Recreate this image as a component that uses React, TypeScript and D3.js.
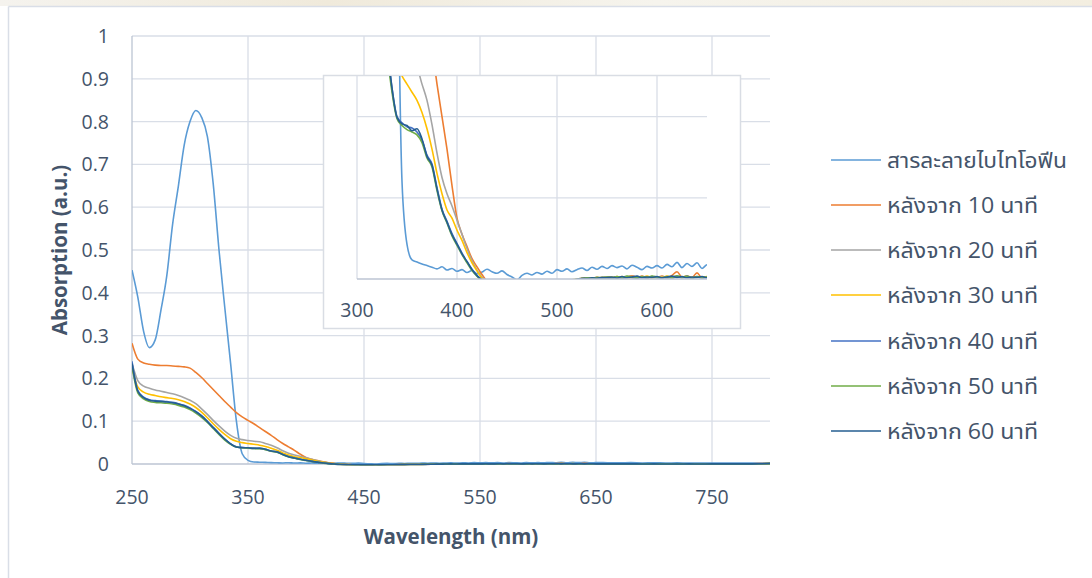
import React from "react";
import * as d3 from "d3";

// sampling grid (nm): 5 nm up to 650, 10 nm after
const wavelengths = [
  250, 255, 260, 265, 270, 275, 280, 285, 290, 295,
  300, 305, 310, 315, 320, 325, 330, 335, 340, 345,
  350, 355, 360, 365, 370, 375, 380, 385, 390, 395,
  400, 405, 410, 415, 420, 425, 430, 435, 440, 445,
  450, 455, 460, 465, 470, 475, 480, 485, 490, 495,
  500, 505, 510, 515, 520, 525, 530, 535, 540, 545,
  550, 555, 560, 565, 570, 575, 580, 585, 590, 595,
  600, 605, 610, 615, 620, 625, 630, 635, 640, 645,
  650, 660, 670, 680, 690, 700, 710, 720, 730, 740,
  750, 760, 770, 780, 790, 800,
];

const bithiophene = [
  0.453, 0.39, 0.31, 0.272, 0.29, 0.36, 0.44, 0.56, 0.65, 0.745,
  0.8, 0.826, 0.81, 0.765, 0.655, 0.5, 0.365, 0.235, 0.1, 0.024,
  0.0085, 0.0047, 0.0042, 0.0037, 0.0033, 0.0029, 0.0025, 0.003, 0.0022, 0.0026,
  0.0019, 0.0023, 0.0016, 0.0021, 0.0013, 0.0017, 0.0024, 0.0018, 0.0014, 0.002,
  0.0011, 0.0005, -0.0002, 0.0009, 0.0014, 0.001, 0.0016, 0.0012, 0.0019, 0.0014,
  0.0023, 0.0019, 0.0025, 0.0018, 0.0023, 0.0027, 0.0021, 0.0029, 0.0024, 0.0031,
  0.0026, 0.0033, 0.0028, 0.0032, 0.0025, 0.0034, 0.0029, 0.0023, 0.0031, 0.0027,
  0.0033, 0.0027, 0.0036, 0.003, 0.0041, 0.0028, 0.0038, 0.0031, 0.004, 0.0026,
  0.0035, 0.003, 0.0027, 0.0031, 0.0025, 0.0028, 0.0024, 0.0026, 0.0022, 0.0025,
  0.0021, 0.0023, 0.002, 0.0022, 0.0024, 0.0026,
];

const after10 = [
  0.282, 0.245, 0.236, 0.233, 0.231, 0.23, 0.23, 0.229, 0.228, 0.227,
  0.224, 0.214, 0.202, 0.188, 0.174, 0.16, 0.146, 0.133, 0.12, 0.11,
  0.102, 0.094, 0.085, 0.076, 0.067, 0.057, 0.048, 0.04, 0.032, 0.023,
  0.015, 0.011, 0.008, 0.005, 0.003, 0.0011, -0.0006, -0.0012, -0.0016, -0.0018,
  -0.0019, -0.0021, -0.002, -0.0019, -0.0017, -0.0018, -0.0015, -0.0014, -0.0012, -0.0011,
  -0.0009, -0.0008, -0.0006, -0.0004, -0.0001, 0.0001, 0.0003, 0.0001, 0.0004, 0.0002,
  0.0005, 0.0003, 0.0006, 0.0002, 0.0005, 0.0008, 0.0004, 0.0007, 0.0003, 0.0006,
  0.0004, 0.0007, 0.0003, 0.0009, 0.0018, 0.0005, 0.0006, 0.0004, 0.0015, 0.0003,
  0.0005, 0.0004, 0.0002, 0.0005, 0.0003, 0.0001, 0.0004, 0.0002, 0.0003, 0.0001,
  0.0004, 0.0006, 0.0003, 0.0005, 0.0008, 0.0012,
];

const after20 = [
  0.235, 0.195, 0.182, 0.177, 0.173, 0.17, 0.167, 0.164, 0.16, 0.155,
  0.149, 0.141, 0.129, 0.116, 0.102, 0.089, 0.077, 0.067, 0.06, 0.057,
  0.055, 0.053, 0.052, 0.048, 0.044, 0.038, 0.031, 0.025, 0.021, 0.018,
  0.0145, 0.011, 0.0075, 0.0045, 0.0022, 0.0004, -0.0008, -0.0014, -0.0017, -0.0019,
  -0.002, -0.0019, -0.0021, -0.0018, -0.0017, -0.0016, -0.0015, -0.0013, -0.0012, -0.001,
  -0.0008, -0.0007, -0.0005, -0.0003, -0.0001, 0.0001, 0.0002, 0.0, 0.0003, 0.0001,
  0.0004, 0.0002, 0.0005, 0.0001, 0.0004, 0.0006, 0.0003, 0.0005, 0.0002, 0.0004,
  0.0003, 0.0006, 0.0002, 0.0005, 0.0007, 0.0003, 0.0005, 0.0002, 0.0006, 0.0003,
  0.0004, 0.0003, 0.0001, 0.0004, 0.0002, 0.0, 0.0003, 0.0001, 0.0002, 0.0,
  0.0003, 0.0004, 0.0002, 0.0004, 0.0006, 0.001,
];

const after30 = [
  0.225, 0.18, 0.168, 0.163, 0.16, 0.157, 0.155, 0.153, 0.15, 0.146,
  0.14, 0.132, 0.121, 0.108, 0.094, 0.081, 0.069, 0.059, 0.053, 0.05,
  0.048, 0.046, 0.044, 0.041, 0.037, 0.032, 0.026, 0.021, 0.017, 0.015,
  0.012, 0.0095, 0.0065, 0.004, 0.002, 0.0002, -0.0009, -0.0014, -0.0017, -0.0019,
  -0.002, -0.0021, -0.0019, -0.002, -0.0018, -0.0016, -0.0016, -0.0014, -0.0012, -0.0011,
  -0.0009, -0.0006, -0.0005, -0.0002, 0.0, 0.0002, 0.0001, 0.0003, 0.0002, 0.0004,
  0.0003, 0.0005, 0.0002, 0.0006, 0.0004, 0.0003, 0.0006, 0.0004, 0.0007, 0.0003,
  0.0005, 0.0004, 0.0007, 0.0003, 0.0006, 0.0004, 0.0008, 0.0003, 0.0005, 0.0004,
  0.0006, 0.0004, 0.0002, 0.0003, 0.0001, 0.0003, 0.0002, 0.0, 0.0002, 0.0001,
  0.0003, 0.0005, 0.0002, 0.0004, 0.0005, 0.0009,
];

const after40 = [
  0.24, 0.172, 0.156, 0.15, 0.148, 0.147, 0.146, 0.144, 0.141, 0.137,
  0.131, 0.123, 0.113, 0.1, 0.086, 0.072, 0.058, 0.047, 0.04, 0.0385,
  0.0375, 0.0372, 0.0362, 0.0342, 0.0305, 0.0283, 0.0225, 0.0172, 0.0142, 0.0112,
  0.0087, 0.0064, 0.0042, 0.0024, 0.0009, -0.0003, -0.0011, -0.0016, -0.0019, -0.002,
  -0.0021, -0.0022, -0.002, -0.0021, -0.0019, -0.0017, -0.0016, -0.0015, -0.0013, -0.0012,
  -0.001, -0.0008, -0.0006, -0.0004, -0.0002, 0.0, 0.0002, 0.0001, 0.0003, 0.0002,
  0.0004, 0.0002, 0.0005, 0.0003, 0.0006, 0.0004, 0.0002, 0.0005, 0.0003, 0.0006,
  0.0004, 0.0002, 0.0005, 0.0003, 0.0006, 0.0004, 0.0007, 0.0002, 0.0005, 0.0003,
  0.0004, 0.0003, 0.0001, 0.0003, 0.0, 0.0002, 0.0001, -0.0001, 0.0001, 0.0,
  0.0002, 0.0003, 0.0001, 0.0003, 0.0004, 0.0008,
];

const after50 = [
  0.228, 0.166, 0.152, 0.146, 0.144, 0.143, 0.142, 0.14, 0.137, 0.133,
  0.127, 0.119, 0.109, 0.097, 0.083, 0.069, 0.056, 0.046, 0.0395, 0.0378,
  0.0368, 0.0362, 0.0355, 0.0336, 0.0298, 0.0276, 0.0218, 0.0168, 0.0138, 0.0106,
  0.0083, 0.006, 0.004, 0.0021, 0.0007, -0.0004, -0.0012, -0.0017, -0.002, -0.0021,
  -0.0022, -0.0021, -0.0022, -0.002, -0.0019, -0.0018, -0.0016, -0.0014, -0.0013, -0.0011,
  -0.0009, -0.0007, -0.0006, -0.0003, -0.0001, 0.0001, 0.0003, 0.0002, 0.0004, 0.0003,
  0.0005, 0.0003, 0.0006, 0.0004, 0.0007, 0.0005, 0.0003, 0.0006, 0.0004, 0.0007,
  0.0005, 0.0003, 0.0006, 0.0004, 0.0008, 0.0005, 0.0006, 0.0003, 0.0006, 0.0004,
  0.0005, 0.0004, 0.0002, 0.0004, 0.0001, 0.0003, 0.0002, 0.0, 0.0002, 0.0001,
  0.0003, 0.0004, 0.0002, 0.0004, 0.0005, 0.0009,
];

const after60 = [
  0.235, 0.17, 0.155, 0.149, 0.147, 0.146, 0.145, 0.143, 0.14, 0.136,
  0.13, 0.122, 0.112, 0.099, 0.085, 0.071, 0.058, 0.047, 0.0398, 0.0382,
  0.0378, 0.0365, 0.037, 0.0345, 0.0302, 0.028, 0.0222, 0.017, 0.014, 0.0109,
  0.0086, 0.0062, 0.0043, 0.0023, 0.0008, -0.0002, -0.001, -0.0015, -0.0018, -0.0019,
  -0.002, -0.0021, -0.0019, -0.002, -0.0018, -0.0016, -0.0015, -0.0014, -0.0012, -0.0011,
  -0.0009, -0.0007, -0.0005, -0.0003, -0.0001, 0.0002, 0.0001, 0.0003, 0.0002, 0.0004,
  0.0003, 0.0005, 0.0002, 0.0006, 0.0003, 0.0005, 0.0007, 0.0003, 0.0005, 0.0004,
  0.0006, 0.0003, 0.0005, 0.0007, 0.0004, 0.0006, 0.0003, 0.0005, 0.0004, 0.0006,
  0.0003, 0.0003, 0.0002, 0.0004, 0.0001, 0.0002, 0.0001, 0.0, 0.0002, 0.0001,
  0.0003, 0.0004, 0.0002, 0.0003, 0.0005, 0.001,
];

const seriesNames = [
  "สารละลายไบไทโอฟีน",
  "หลังจาก 10 นาที",
  "หลังจาก 20 นาที",
  "หลังจาก 30 นาที",
  "หลังจาก 40 นาที",
  "หลังจาก 50 นาที",
  "หลังจาก 60 นาที",
];
const seriesValues = [bithiophene, after10, after20, after30, after40, after50, after60];
const seriesColors = ["#5b9bd5", "#ed7d31", "#a5a5a5", "#ffc000", "#4472c4", "#70ad47", "#255e91"];

const xTicks = [250, 350, 450, 550, 650, 750];
const yTicks = [0, 0.1, 0.2, 0.3, 0.4, 0.5, 0.6, 0.7, 0.8, 0.9, 1];
const insetXTicks = [300, 400, 500, 600];
const insetYGrid = [0.02, 0.04];

const FONT = "'Open Sans', 'Noto Sans Thai', 'Noto Sans', sans-serif";
const TEXT = "#44546a";
const GRID = "#d9dee7";
const AXIS = "#bcc5d3";

export default function App() {
  const W = 1092;
  const H = 578;

  const x = d3.scaleLinear().domain([250, 800]).range([132, 770]);
  const y = d3.scaleLinear().domain([0, 1]).range([464, 36]);

  const ix = d3.scaleLinear().domain([300, 650]).range([357, 707]);
  const iy = d3.scaleLinear().domain([0, 0.05]).range([279, 76]);

  const mainLine = d3
    .line<number>()
    .x((_, i) => x(wavelengths[i]))
    .y(d => y(d))
    .curve(d3.curveMonotoneX);

  const insetLine = d3
    .line<number>()
    .x((_, i) => ix(wavelengths[i]))
    .y(d => iy(d))
    .curve(d3.curveMonotoneX);

  const legendY = [160, 205, 250, 295, 341, 386, 431];

  return (
    <svg
      width={W}
      height={H}
      style={{ position: "absolute", left: 0, top: 0, background: "#fff" }}
      fontFamily={FONT}
    >
      <defs>
        <clipPath id="mainClip">
          <rect x={x(250)} y={y(1)} width={x(800) - x(250)} height={y(0) - y(1) + 1.5} />
        </clipPath>
        <clipPath id="insetClip">
          <rect x={ix(300)} y={iy(0.05)} width={ix(650) - ix(300)} height={iy(0) - iy(0.05)} />
        </clipPath>
        <linearGradient id="topGlow" x1="0" x2="1" y1="0" y2="0">
          <stop offset="0%" stopColor="#f5f3ee" />
          <stop offset="30%" stopColor="#f0eadb" />
          <stop offset="60%" stopColor="#f6f4ed" />
          <stop offset="100%" stopColor="#f3eee0" />
        </linearGradient>
      </defs>

      <rect x={0} y={0} width={W} height={6} fill="url(#topGlow)" />
      <line x1={8.5} x2={W} y1={6.5} y2={6.5} stroke="#d9dee7" strokeWidth={1.5} />
      <line x1={8.5} x2={8.5} y1={6.5} y2={H} stroke="#d9dee7" strokeWidth={1.5} />

      {/* main gridlines */}
      {yTicks.slice(1).map(t => (
        <line key={"gy" + t} x1={x(250)} x2={x(800)} y1={y(t)} y2={y(t)} stroke={GRID} strokeWidth={1.3} />
      ))}
      {xTicks.slice(1).map(t => (
        <line key={"gx" + t} x1={x(t)} x2={x(t)} y1={y(1)} y2={y(0)} stroke={GRID} strokeWidth={1.3} />
      ))}
      <line x1={x(250)} x2={x(250)} y1={y(1)} y2={y(0)} stroke={AXIS} strokeWidth={1.3} />
      <line x1={x(250)} x2={x(800)} y1={y(0)} y2={y(0)} stroke={AXIS} strokeWidth={1.3} />

      {/* main series */}
      <g clipPath="url(#mainClip)">
        {seriesValues.map((vals, k) => (
          <path key={k} d={mainLine(vals) || ""} fill="none" stroke={seriesColors[k]} strokeWidth={1.6} strokeLinejoin="round" />
        ))}
      </g>

      {/* main tick labels */}
      {yTicks.map(t => (
        <text key={"ly" + t} x={109} y={y(t)} dy="0.36em" textAnchor="end" fontSize={19.5} fill={TEXT}>
          {String(t)}
        </text>
      ))}
      {xTicks.map(t => (
        <text key={"lx" + t} x={x(t)} y={504} textAnchor="middle" fontSize={19.5} fill={TEXT}>
          {t}
        </text>
      ))}

      <text x={(x(250) + x(800)) / 2} y={544} textAnchor="middle" fontSize={20.5} fontWeight="bold" fill={TEXT}>
        Wavelength (nm)
      </text>
      <text
        transform={`translate(67, ${(y(0) + y(1)) / 2}) rotate(-90)`}
        textAnchor="middle"
        fontSize={20.5}
        fontWeight="bold"
        fill={TEXT}
      >
        Absorption (a.u.)
      </text>

      {/* inset */}
      <rect x={323.5} y={75.5} width={417} height={253} fill="#fff" stroke="#d9dde4" strokeWidth={1.5} />
      {insetYGrid.map(t => (
        <line key={"igy" + t} x1={ix(300)} x2={ix(650)} y1={iy(t)} y2={iy(t)} stroke={GRID} strokeWidth={1.3} />
      ))}
      {insetXTicks.slice(1).map(t => (
        <line key={"igx" + t} x1={ix(t)} x2={ix(t)} y1={iy(0.05)} y2={iy(0)} stroke={GRID} strokeWidth={1.3} />
      ))}
      <line x1={ix(300)} x2={ix(300)} y1={iy(0.05)} y2={iy(0)} stroke={GRID} strokeWidth={1.3} />
      <g clipPath="url(#insetClip)">
        {seriesValues.map((vals, k) => (
          <path key={"i" + k} d={insetLine(vals) || ""} fill="none" stroke={seriesColors[k]} strokeWidth={1.6} strokeLinejoin="round" />
        ))}
      </g>
      <line x1={ix(300)} x2={ix(650)} y1={iy(0)} y2={iy(0)} stroke={AXIS} strokeWidth={1.3} />
      {insetXTicks.map(t => (
        <text key={"ilx" + t} x={ix(t)} y={317} textAnchor="middle" fontSize={19.5} fill={TEXT}>
          {t}
        </text>
      ))}

      {/* legend */}
      {seriesNames.map((name, k) => (
        <g key={"lg" + k}>
          <line x1={831} x2={881} y1={legendY[k]} y2={legendY[k]} stroke={seriesColors[k]} strokeWidth={1.5} />
          <text
            x={887}
            y={legendY[k]}
            dy="0.36em"
            fontSize={21}
            fill={TEXT}
            textLength={k === 0 ? 180 : 151}
            lengthAdjust="spacingAndGlyphs"
          >
            {name}
          </text>
        </g>
      ))}
    </svg>
  );
}
